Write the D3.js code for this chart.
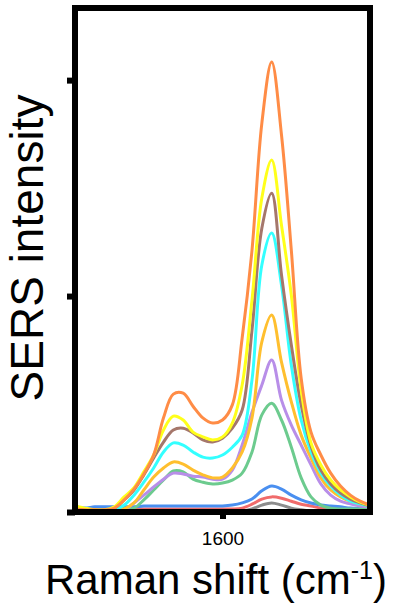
<!DOCTYPE html>
<html>
<head>
<meta charset="utf-8">
<script src="https://cdn.jsdelivr.net/npm/d3@7"></script>
<style>
  html, body { margin: 0; padding: 0; background: #fff; }
  svg { display: block; font-family: "Liberation Sans", Arial, sans-serif; }
</style>
</head>
<body>
<div id="chart"></div>
<script>
// Raman shift grid (cm-1), one point every 10 cm-1
var shifts = d3.range(1450, 1751, 10);

// SERS intensity per spectrum, in 10^3 counts
var grey = [0.02,0.02,0.02,0.02,0.02,0.02,0.02,0.02,0.02,0.02,0.02,0.02,0.02,0.02,0.02,0.02,0.02,0.02,0.07,0.16,0.21,0.16,0.09,0.05,0.02,0.02,0.02,0.02,0.02,0.02,0.02];
var red = [0.07,0.07,0.07,0.07,0.07,0.07,0.07,0.07,0.07,0.07,0.07,0.07,0.07,0.07,0.07,0.07,0.07,0.09,0.18,0.30,0.35,0.32,0.25,0.18,0.14,0.09,0.07,0.07,0.07,0.07,0.07];
var blue = [0.12,0.09,0.12,0.12,0.12,0.12,0.12,0.14,0.14,0.14,0.14,0.14,0.14,0.14,0.14,0.14,0.16,0.21,0.30,0.49,0.60,0.53,0.39,0.28,0.21,0.16,0.14,0.12,0.09,0.09,0.09];
var green = [0.05,0.05,0.05,0.05,0.05,0.07,0.09,0.28,0.51,0.74,0.95,0.93,0.76,0.69,0.65,0.67,0.74,0.90,1.39,2.25,2.52,2.13,1.50,0.79,0.35,0.16,0.09,0.07,0.07,0.07,0.07];
var lavender = [0.05,0.05,0.05,0.05,0.05,0.05,0.21,0.39,0.58,0.76,0.90,0.88,0.83,0.81,0.76,0.76,0.97,1.55,2.31,2.94,3.52,2.59,2.01,1.55,1.09,0.65,0.39,0.25,0.19,0.14,0.12];
var gold = [0.05,0.05,0.05,0.02,0.02,0.07,0.21,0.51,0.81,1.02,1.16,1.11,0.97,0.86,0.79,0.81,1.02,1.39,2.18,3.94,4.56,3.47,2.55,1.78,1.25,0.79,0.51,0.35,0.25,0.19,0.14];
var cyan = [0.05,0.05,0.05,0.05,0.05,0.16,0.39,0.69,1.02,1.39,1.60,1.55,1.39,1.27,1.25,1.32,1.50,1.78,3.06,5.72,6.46,5.25,3.40,2.13,1.39,0.90,0.60,0.39,0.25,0.19,0.14];
var brown = [0.05,0.05,0.05,0.05,0.09,0.28,0.51,0.86,1.25,1.62,1.90,1.94,1.83,1.67,1.62,1.71,1.94,2.36,4.21,6.57,7.38,5.49,3.87,2.48,1.53,0.97,0.65,0.44,0.30,0.21,0.14];
var yellow = [0.14,0.09,0.05,0.05,0.12,0.35,0.56,0.93,1.32,1.90,2.22,2.13,1.85,1.74,1.67,1.74,2.06,2.94,4.91,7.27,8.15,6.64,5.02,2.82,1.60,1.09,0.74,0.51,0.35,0.23,0.16];
var orange = [0.07,0.05,0.05,0.05,0.09,0.28,0.53,0.88,1.32,2.18,2.73,2.75,2.45,2.18,2.06,2.13,2.48,4.03,6.06,9.00,10.42,8.73,6.06,3.10,1.85,1.32,0.90,0.60,0.39,0.25,0.16];

// drawing order, bottom first
var spectra = [grey, red, blue, green, lavender, gold, cyan, brown, yellow, orange];
var colors = ['#8c8c8c', '#f06b6b', '#4a8ff0', '#6ccb8e', '#b88ee8', '#ffbf2e', '#33ffff', '#a5776b', '#ffff1a', '#ff8c46'];

var xTicks = [1600];
var yTicks = [0, 5, 10];

(function() {
  var width = 398;
  var height = 614;
  var margin = { top: 8, right: 28, bottom: 102, left: 75 };

  var svg = d3.select('#chart').append('svg')
    .attr('width', width)
    .attr('height', height);

  var x = d3.scaleLinear().domain([1450, 1750]).range([margin.left, width - margin.right]);
  var y = d3.scaleLinear().domain([0, 11.67]).range([height - margin.bottom, margin.top]);

  var line = d3.line()
    .x(function(d, i) { return x(shifts[i]); })
    .y(function(d) { return y(d); })
    .curve(d3.curveCatmullRom.alpha(0.5));

  /*
   * Spectra
   */
  svg.append('g')
    .attr('class', 'spectra')
    .selectAll('path')
    .data(spectra)
    .enter().append('path')
    .attr('d', line)
    .attr('fill', 'none')
    .attr('stroke', function(d, i) { return colors[i]; })
    .attr('stroke-width', 3)
    .attr('stroke-linejoin', 'round');

  /*
   * Axes: thick ticks, no domain line (frame drawn separately)
   */
  var xAxis = svg.append('g')
    .attr('transform', 'translate(0,' + y(0) + ')')
    .call(d3.axisBottom(x).tickValues(xTicks).tickFormat(d3.format('d')).tickSize(7).tickPadding(13));
  var yAxis = svg.append('g')
    .attr('transform', 'translate(' + x(1450) + ',0)')
    .call(d3.axisLeft(y).tickValues(yTicks).tickFormat('').tickSize(8));

  [xAxis, yAxis].forEach(function(axis) {
    axis.select('.domain').remove();
    axis.selectAll('line').attr('stroke', '#000').attr('stroke-width', 6);
  });
  xAxis.selectAll('text')
    .attr('fill', '#000')
    .style('font-size', '19px');

  // frame around plot
  svg.append('rect')
    .attr('x', x(1450))
    .attr('y', y(11.67))
    .attr('width', x(1750) - x(1450))
    .attr('height', y(0) - y(11.67))
    .attr('fill', 'none')
    .attr('stroke', '#000')
    .attr('stroke-width', 6);

  /*
   * Axis titles
   */
  var xTitle = svg.append('text')
    .attr('x', 216)
    .attr('y', 594)
    .attr('text-anchor', 'middle')
    .style('font-size', '42px');
  xTitle.append('tspan').text('Raman shift (cm');
  xTitle.append('tspan').attr('dy', -15).style('font-size', '25px').text('-1');
  xTitle.append('tspan').attr('dy', 15).text(')');

  svg.append('text')
    .attr('transform', 'translate(43,' + 248 + ') rotate(-90)')
    .attr('text-anchor', 'middle')
    .style('font-size', '46px')
    .text('SERS intensity');
})();
</script>
</body>
</html>
